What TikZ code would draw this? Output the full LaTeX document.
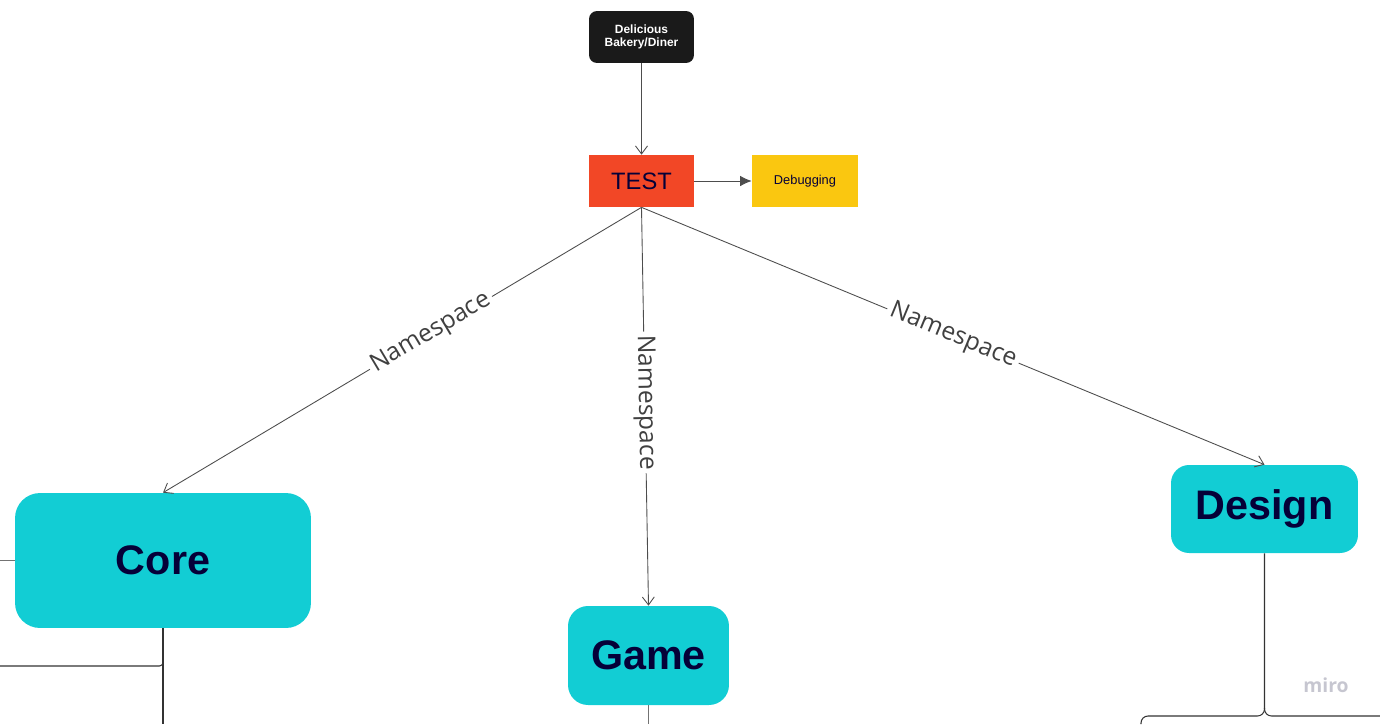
\documentclass[tikz,border=0pt]{standalone}
\usepackage{fontspec}
\setmainfont{Liberation Sans}
\newfontfamily\labelfont{Open Sans}
\usetikzlibrary{arrows.meta}

\definecolor{miroblack}{HTML}{1A1A1A}
\definecolor{mirored}{HTML}{F24726}
\definecolor{miroyellow}{HTML}{FAC710}
\definecolor{mirocyan}{HTML}{12CDD4}
\definecolor{miroink}{HTML}{050038}
\definecolor{linegray}{HTML}{4D4D4D}
\definecolor{logogray}{HTML}{C6C6D0}

\begin{document}
\begin{tikzpicture}[x=0.02cm, y=-0.02cm,
	box/.style={inner sep=0pt, align=center, text=miroink},
	module/.style={box, fill=mirocyan, font=\fontsize{23.5}{26}\selectfont\bfseries},
	link/.style={draw=linegray, line width=0.5pt, -{Straight Barb[length=1.6mm, width=2.4mm]}},
	nslabel/.style={fill=white, inner sep=2pt, text=black!75, font=\labelfont\fontsize{14}{16}\selectfont}]
	% параметры
	\def\W{1380} % ширина картинки
	\def\H{724}  % высота картинки

	\useasboundingbox (0,0) rectangle (\W,\H);

	% верхние блоки
	\node[box, fill=miroblack, text=white, rounded corners=0.16cm,
		minimum width=2.1cm, minimum height=1.04cm,
		font=\fontsize{6.8}{7.6}\selectfont\bfseries] (bakery) at (641.5,37) {Delicious\\Bakery/Diner};
	\node[box, fill=mirored, minimum width=2.1cm, minimum height=1.04cm,
		font=\fontsize{13.5}{15}\selectfont] (test) at (641.5,181) {TEST};
	\node[box, fill=miroyellow, minimum width=2.12cm, minimum height=1.04cm,
		font=\fontsize{7.3}{8}\selectfont] (debug) at (805,181) {Debugging};

	% модули
	\node[module, rounded corners=0.5cm, minimum width=5.92cm, minimum height=2.7cm] (core) at (163,560.5) {Core};
	\node[module, rounded corners=0.4cm, minimum width=3.22cm, minimum height=1.98cm] (game) at (648.5,655.5) {Game};
	\node[module, rounded corners=0.36cm, minimum width=3.74cm, minimum height=1.76cm] (design) at (1264.5,509) {Design};

	% связи
	\draw[link] (bakery) -- (test);
	\draw[draw=linegray, line width=0.5pt, -{Latex[length=2.3mm, width=2.1mm]}] (test) -- (debug);
	\draw[link] (test.south) -- node[nslabel, sloped, pos=0.44] {Namespace} (core.north);
	\draw[link] (test.south) -- node[nslabel, sloped, pos=0.49] {Namespace} (game.north);
	\draw[link] (test.south) -- node[nslabel, sloped, pos=0.5] {Namespace} (design.north);

	% ветки вниз
	\coordinate (coreend) at (163,\H);
	\coordinate (coreleft) at (0,560.5);
	\coordinate (corebranch) at (0,666);
	\coordinate (gameend) at (648.5,\H);
	\coordinate (designleft) at (1141,\H);
	\coordinate (designright) at (\W,716);
	\draw[black!80, line width=0.6pt] (core.south) -- (coreend);
	\draw[black!55, line width=0.6pt] (coreleft) -- (core.west);
	\draw[black!80, line width=0.6pt, rounded corners=2] (corebranch) -- (163,666) -- (163,660);
	\draw[black!55, line width=0.6pt] (game.south) -- (gameend);
	\draw[black!80, line width=0.6pt, rounded corners=4] (design.south) -- (1264.5,716) -| (designleft);
	\draw[black!80, line width=0.6pt, rounded corners=4] (1264.5,708) -- (1264.5,716) -- (designright);

	% логотип
	\node[text=logogray, font=\labelfont\fontsize{11}{12}\selectfont\bfseries] (logo) at (1326,685) {miro};
\end{tikzpicture}
\end{document}
